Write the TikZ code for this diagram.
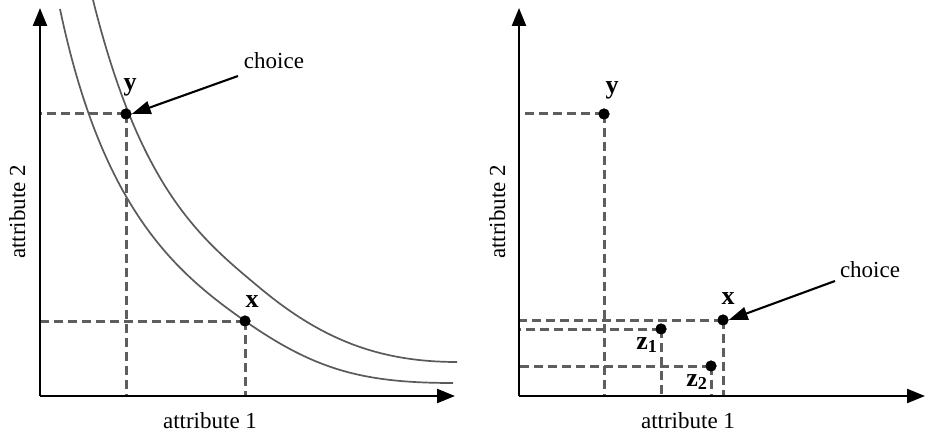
\documentclass[tikz,border=0pt]{standalone}
\usepackage{fontspec}
\setmainfont{Liberation Serif}
\usetikzlibrary{arrows.meta}
\definecolor{dashgray}{HTML}{5E5E5E}
\definecolor{curvegray}{HTML}{5A5A5A}
\begin{document}
\begin{tikzpicture}[x=1pt,y=-1pt,
  axis/.style={line width=2.4pt,-{Triangle[length=18pt,width=14pt]}},
  guide/.style={draw=dashgray,line width=3pt,dash pattern=on 9pt off 5pt},
  curve/.style={draw=curvegray,line width=1.7pt},
  dot/.style={circle,fill=black,inner sep=0pt,minimum size=11pt},
  lab/.style={font=\fontsize{26}{30}\selectfont\bfseries,anchor=base,inner sep=0pt},
  txt/.style={font=\fontsize{23}{27}\selectfont,anchor=base,inner sep=0pt},
  pointer/.style={line width=2.1pt,-{Triangle[length=19pt,width=13pt]}}
]
\useasboundingbox (0,0) rectangle (926,438);

% ---------- left panel ----------
\coordinate (OL) at (40,396);
\coordinate (XL) at (455,396);
\coordinate (YL) at (40,8);
\draw[curve] (60,9) .. controls (102,209) and (175,272) .. (245,321)
                    .. controls (315,370) and (363,383) .. (453,383);
\draw[curve] (93,0) .. controls (140.5,190) and (200,238) .. (260,288)
                    .. controls (320,338) and (377,362) .. (457,362);

\node[dot] (yL) at (126,114) {};
\node[dot] (xL) at (245,321) {};
\draw[guide] (yL.center) -- (yL.center -| OL);
\draw[guide] (yL.center) -- (yL.center |- OL);
\draw[guide] (xL.center) -- (xL.center -| OL);
\draw[guide] (xL.center) -- (xL.center |- OL);
\node[dot] at (yL) {};
\node[dot] at (xL) {};

\draw[axis] (OL) -- (XL);
\draw[axis] (OL) -- (YL);

\node[lab] (ylabL) at (130,91) {y};
\node[lab] (xlabL) at (252,308) {x};
\node[txt] (choiceL) at (274,69) {choice};
\coordinate (chsL) at (238,76);
\draw[pointer] (chsL) -- (yL.east);
\node[txt] (a1L) at (210,428) {attribute 1};
\node[txt,rotate=90] (a2L) at (25,212) {attribute 2};

% ---------- right panel ----------
\coordinate (OR) at (519,396);
\coordinate (XR) at (925,396);
\coordinate (YR) at (519,8);

\node[dot] (yR) at (604,114) {};
\node[dot] (xR) at (723,320) {};
\node[dot] (z1) at (661,329) {};
\node[dot] (z2) at (711,366) {};
\foreach \p in {yR,xR,z1,z2}{
  \draw[guide] (\p.center) -- (\p.center -| OR);
  \draw[guide] (\p.center) -- (\p.center |- OR);
}
\foreach \p in {yR,xR,z1,z2}{\node[dot] at (\p) {};}

\draw[axis] (OR) -- (XR);
\draw[axis] (OR) -- (YR);

\node[lab] (ylabR) at (612,94) {y};
\node[lab] (xlabR) at (728,305) {x};
\node[lab] (zlab1) at (647,349) {z\textsubscript{1}};
\node[lab] (zlab2) at (697,386) {z\textsubscript{2}};
\node[txt] (choiceR) at (870,277) {choice};
\coordinate (chsR) at (835,281);
\draw[pointer] (chsR) -- (xR.east);
\node[txt] (a1R) at (688,428) {attribute 1};
\node[txt,rotate=90] (a2R) at (505,212) {attribute 2};
\end{tikzpicture}
\end{document}
